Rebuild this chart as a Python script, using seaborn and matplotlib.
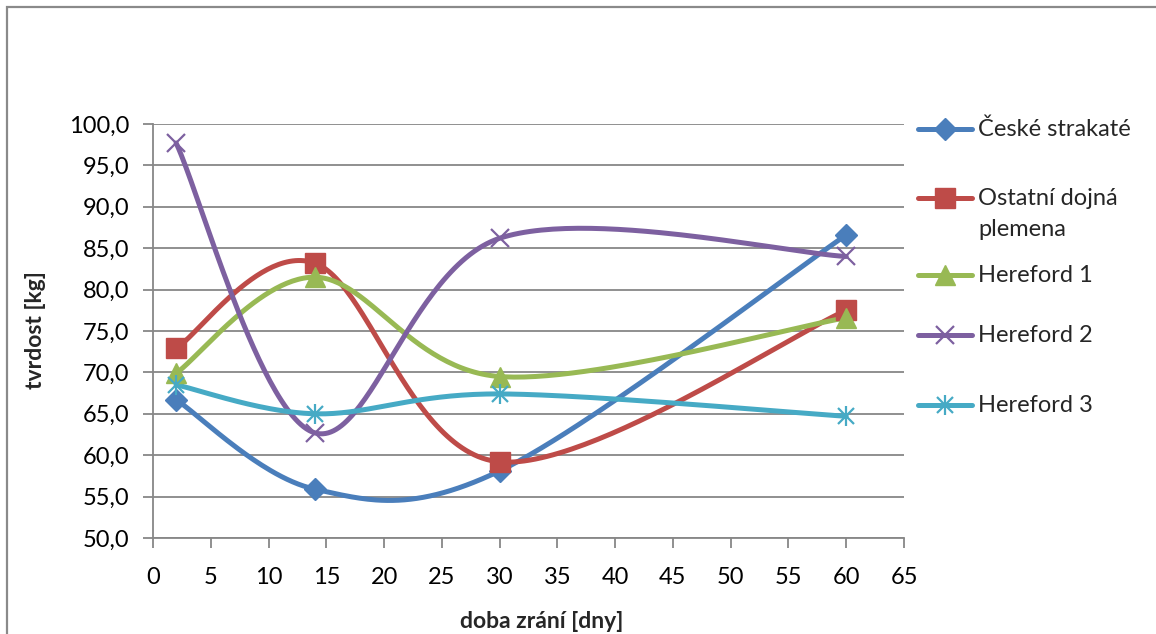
import numpy as np
import pandas as pd
import matplotlib
matplotlib.use("Agg")
import matplotlib.pyplot as plt
from matplotlib.lines import Line2D
from matplotlib.patches import Rectangle
from matplotlib.ticker import FuncFormatter
import seaborn as sns

# ---- data ----
days = [2, 14, 30, 60]
series_names = ["České strakaté", "Ostatní dojná\nplemena", "Hereford 1", "Hereford 2", "Hereford 3"]
ceske = [66.7, 55.9, 58.1, 86.6]
ostatni = [72.9, 83.2, 59.2, 77.5]
hereford1 = [69.9, 81.5, 69.5, 76.6]
hereford2 = [97.7, 62.7, 86.2, 84.0]
hereford3 = [68.5, 65.0, 67.4, 64.7]
x_ticks = list(range(0, 70, 5))
y_ticks = list(range(50, 105, 5))

colors = ["#4A7EBB", "#BE4B48", "#98B954", "#7D60A0", "#46AAC5"]
values = [ceske, ostatni, hereford1, hereford2, hereford3]

sns.set_theme(style="white")
plt.rcParams['font.family'] = ['Lato', 'DejaVu Sans']

W, H = 1156, 634
fig = plt.figure(figsize=(W / 100, H / 100), dpi=100)
ax = fig.add_axes([153 / W, 1 - 538 / H, (904 - 153) / W, (538 - 124) / H])


def excel_smooth(xs, ys, n=60):
    """Cubic Bezier smoothing like Excel's smoothed line (Catmull-Rom, 1/6)."""
    P = np.column_stack([xs, ys]).astype(float)
    pts = []
    for i in range(len(P) - 1):
        p0 = P[i - 1] if i > 0 else P[i]
        p1 = P[i]
        p2 = P[i + 1]
        p3 = P[i + 2] if i + 2 < len(P) else P[i + 1]
        c1 = p1 + (p2 - p0) / 6.0
        c2 = p2 - (p3 - p1) / 6.0
        t = np.linspace(0, 1, n)[:, None]
        seg = (1 - t) ** 3 * p1 + 3 * (1 - t) ** 2 * t * c1 + 3 * (1 - t) * t ** 2 * c2 + t ** 3 * p2
        if i > 0:
            seg = seg[1:]
        pts.append(seg)
    pts = np.vstack(pts)
    return pts[:, 0], pts[:, 1]


grid_color = "#878787"
for yv in y_ticks:
    ax.axhline(yv, color=grid_color, lw=1.3, zorder=0)

lw = 3.6
for name, vals, col in zip(series_names, values, colors):
    sx, sy = excel_smooth(days, vals)
    df = pd.DataFrame({"x": sx, "y": sy})
    sns.lineplot(data=df, x="x", y="y", ax=ax, color=col, lw=lw, sort=False,
                 estimator=None, solid_capstyle="round", zorder=2)

# markers
ax.plot(days, ceske, ls="none", marker="D", ms=11, color=colors[0], mec=colors[0], zorder=3)
ax.plot(days, ostatni, ls="none", marker="s", ms=14, color=colors[1], mec=colors[1], zorder=3)
ax.plot(days, hereford1, ls="none", marker="^", ms=14, color=colors[2], mec=colors[2], zorder=3)
ax.plot(days, hereford2, ls="none", marker="x", ms=13, mew=1.6, color=colors[3], zorder=3)
ax.plot(days, hereford3, ls="none", marker="x", ms=11, mew=1.6, color=colors[4], zorder=3)
ax.plot(days, hereford3, ls="none", marker="|", ms=15, mew=1.6, color=colors[4], zorder=3)

ax.set_xlim(0, 65)
ax.set_ylim(50, 100)
ax.set_xticks(x_ticks)
ax.set_yticks(y_ticks)
ax.yaxis.set_major_formatter(FuncFormatter(lambda v, p: f"{v:.1f}".replace(".", ",")))

for side in ["top", "right"]:
    ax.spines[side].set_visible(False)
for side in ["left", "bottom"]:
    ax.spines[side].set_color(grid_color)
    ax.spines[side].set_linewidth(1.3)

fs = 17
ax.tick_params(axis="both", which="major", direction="out", length=7, width=1.3,
               color=grid_color, labelsize=fs, labelcolor="black")
ax.tick_params(axis="x", pad=14, bottom=True)
ax.tick_params(axis="y", pad=10, left=True)
ax.set_xlabel("")
ax.set_ylabel("")

fig.text(35 / W, 1 - 330 / H, "tvrdost [kg]", rotation=90, ha="center", va="center",
         fontsize=16.5, fontweight="bold")
fig.text(542 / W, 1 - 622 / H, "doba zrání [dny]", ha="center", va="center",
         fontsize=16.5, fontweight="bold")

# legend (manual placement, Excel-like)
leg_y = [129, 198, 275, 335, 405]
markers = [("D", 11, 1), ("s", 14, 1), ("^", 14, 1), ("x", 13, 1.6), ("x", 11, 1.6)]
for yv, name, col, (mk, ms, mew) in zip(leg_y, series_names, colors, markers):
    fy = 1 - yv / H
    fig.add_artist(Line2D([918 / W, 972 / W], [fy, fy], transform=fig.transFigure,
                          color=col, lw=lw, solid_capstyle="round"))
    fig.add_artist(Line2D([945 / W], [fy], transform=fig.transFigure, ls="none",
                          marker=mk, ms=ms, mew=mew, color=col, mec=col))
    if name == "Hereford 3":
        fig.add_artist(Line2D([945 / W], [fy], transform=fig.transFigure, ls="none",
                              marker="|", ms=15, mew=1.6, color=col))
    for k, line in enumerate(name.split("\n")):
        fig.text(978 / W, 1 - (yv + 31 * k) / H, line, ha="left", va="center", fontsize=fs)

# outer chart border (cropped at right and bottom)
fig.add_artist(Rectangle((7 / W, -0.05), 1.2, 1 - 7 / H + 0.05, transform=fig.transFigure,
                         fill=False, ec="#8a8a8a", lw=1.6))

fig.savefig("out.png", dpi=100)
